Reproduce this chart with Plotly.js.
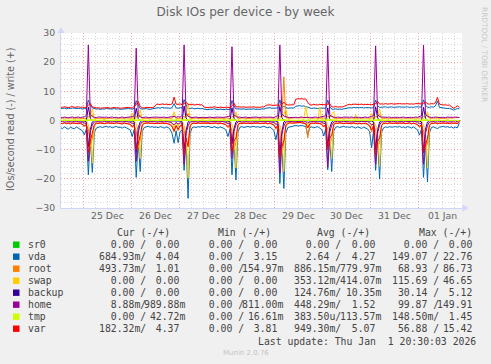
<!DOCTYPE html>
<html><head><meta charset="utf-8">
<script src="https://cdn.plot.ly/plotly-3.0.1.min.js"></script>
<style>html,body{margin:0;padding:0;background:#f0f0f0;}#chart{width:491px;height:364px;}</style>
</head><body><div id="chart"></div>
<script>
// ---- sampling grid (hourly averages) ----
const START_UTC = Date.UTC(2025, 11, 24, 12, 30);
const STEP_MS = 3600000;

// ---- series (reads stored positive, drawn negative) ----
const sr0_r = [
0,0,0,0,0,0,0,0,0,0,0,0,0,0,0,0,0,0,0,0,0,0,0,0,
0,0,0,0,0,0,0,0,0,0,0,0,0,0,0,0,0,0,0,0,0,0,0,0,
0,0,0,0,0,0,0,0,0,0,0,0,0,0,0,0,0,0,0,0,0,0,0,0,
0,0,0,0,0,0,0,0,0,0,0,0,0,0,0,0,0,0,0,0,0,0,0,0,
0,0,0,0,0,0,0,0,0,0,0,0,0,0,0,0,0,0,0,0,0,0,0,0,
0,0,0,0,0,0,0,0,0,0,0,0,0,0,0,0,0,0,0,0,0,0,0,0,
0,0,0,0,0,0,0,0,0,0,0,0,0,0,0,0,0,0,0,0,0,0,0,0,
0,0,0,0,0,0,0,0,0,0,0,0,0,0,0,0,0,0,0,0,0,0,0,0,
0,0,0,0,0,0,0,0,0];
const sr0_w = [
0,0,0,0,0,0,0,0,0,0,0,0,0,0,0,0,0,0,0,0,0,0,0,0,
0,0,0,0,0,0,0,0,0,0,0,0,0,0,0,0,0,0,0,0,0,0,0,0,
0,0,0,0,0,0,0,0,0,0,0,0,0,0,0,0,0,0,0,0,0,0,0,0,
0,0,0,0,0,0,0,0,0,0,0,0,0,0,0,0,0,0,0,0,0,0,0,0,
0,0,0,0,0,0,0,0,0,0,0,0,0,0,0,0,0,0,0,0,0,0,0,0,
0,0,0,0,0,0,0,0,0,0,0,0,0,0,0,0,0,0,0,0,0,0,0,0,
0,0,0,0,0,0,0,0,0,0,0,0,0,0,0,0,0,0,0,0,0,0,0,0,
0,0,0,0,0,0,0,0,0,0,0,0,0,0,0,0,0,0,0,0,0,0,0,0,
0,0,0,0,0,0,0,0,0];
const vda_r = [
2.4,2.8,2.2,2.6,3.0,2.3,2.5,2.9,2.2,2.7,3.1,3.5,4.9,3.0,18.6,6.5,17.8,4.2,2.6,2.3,2.1,2.4,2.2,2.0,
2.3,2.1,2.5,2.2,2.0,2.4,2.3,2.6,2.2,2.5,2.8,3.2,5.5,3.1,19.5,7.0,17.5,3.8,2.4,2.2,2.0,2.3,2.1,2.4,
2.2,2.5,2.1,2.3,2.6,2.2,2.4,3.0,4.5,7.8,3.5,7.6,3.8,3.2,17.1,6.8,26.7,4.5,2.5,2.2,2.4,2.1,2.3,2.0,
2.1,2.3,2.0,2.2,2.5,2.1,2.3,2.6,2.2,2.4,2.7,3.3,5.5,3.0,18.6,6.2,20.4,3.9,2.3,2.1,2.4,2.2,2.0,2.3,
2.2,2.0,2.3,2.1,2.4,2.2,2.0,2.3,2.5,2.2,2.8,3.4,6.6,3.1,21.6,7.5,23.3,4.4,2.4,2.2,2.0,1.8,1.7,1.9,
1.8,1.7,1.9,2.1,5.0,2.4,2.2,2.5,2.3,2.1,2.6,3.1,5.3,2.9,16.9,6.0,17.5,3.6,2.3,2.1,2.4,2.2,2.0,2.3,
2.2,2.4,2.1,2.3,2.6,2.2,2.4,2.7,2.3,2.5,2.9,3.8,9.3,3.4,17.1,6.5,20.1,4.0,2.5,2.2,2.4,2.1,2.3,2.2,
2.1,2.3,2.0,2.4,2.2,2.5,2.1,2.3,2.6,2.2,2.7,3.2,5.0,3.0,19.5,7.2,21.1,4.1,2.4,2.2,2.5,2.8,2.3,2.1,
2.0,2.3,2.1,2.4,2.2,2.6,2.3,2.5,0.7];
const vda_w = [
4.2,4.1,4.3,4.0,4.2,4.1,4.3,4.2,4.0,4.1,4.2,3.9,4.1,4.0,7.0,5.2,4.3,4.0,3.9,4.0,3.8,4.0,3.9,4.1,
4.0,3.8,3.9,4.1,3.9,4.0,3.8,3.9,4.0,3.9,4.1,4.0,3.9,4.2,6.8,5.4,4.1,3.9,4.0,4.1,3.9,3.8,4.0,4.1,
4.3,4.4,4.2,4.5,4.3,4.4,4.3,4.2,4.4,5.8,4.3,4.2,4.4,4.3,7.2,5.3,4.2,4.1,4.3,4.0,4.1,4.2,4.0,4.1,
3.9,3.8,3.7,3.9,3.8,4.0,3.8,3.7,3.9,3.8,3.7,3.9,3.8,3.7,6.9,5.0,4.0,3.9,3.8,3.9,4.0,3.8,3.9,3.8,
3.9,4.0,3.8,3.9,3.8,4.0,3.9,4.2,4.3,4.4,4.2,4.3,4.4,4.3,7.1,4.6,4.8,4.4,4.2,4.3,4.2,4.3,4.9,5.0,
5.1,4.9,5.0,4.8,4.6,4.2,4.1,4.3,4.2,4.1,4.3,4.2,4.1,4.2,7.0,4.9,3.9,3.8,4.0,3.8,3.9,3.8,4.0,4.2,
4.3,4.4,4.3,4.5,4.4,4.3,4.4,4.5,4.3,4.4,4.5,4.4,4.3,4.4,7.0,5.1,4.5,4.6,4.5,4.7,4.5,4.6,4.7,4.5,
4.6,4.5,4.7,4.6,4.5,4.6,4.7,4.5,4.6,4.5,4.7,4.6,4.5,4.6,7.1,5.2,4.6,4.5,4.7,4.6,5.0,6.7,4.5,4.4,
4.2,4.3,4.1,4.2,3.9,3.6,3.8,4.1,4.0];
const root_r = [
0.9,1.0,0.8,1.1,0.9,0.8,1.0,0.9,1.1,0.8,1.0,1.3,2.0,1.5,3.0,9.0,6.0,1.8,1.0,0.9,0.8,0.9,1.0,0.8,
0.9,0.8,1.0,0.9,0.8,1.0,0.9,1.1,0.8,0.9,1.2,1.4,2.4,1.6,3.5,9.5,7.0,1.6,0.9,1.0,0.8,0.9,0.8,1.0,
0.9,1.0,0.8,0.9,1.1,0.9,1.0,1.3,2.0,4.0,1.6,3.5,1.8,1.4,3.2,8.5,8.0,2.0,1.0,0.9,1.0,0.8,0.9,0.8,
0.9,0.8,1.0,0.9,1.1,0.8,0.9,1.0,0.8,1.0,1.2,1.5,2.5,1.5,3.4,10.0,7.5,1.7,0.9,0.8,1.0,0.9,0.8,0.9,
1.0,0.9,0.8,1.0,0.9,1.1,0.9,0.8,1.0,0.9,1.3,1.6,3.0,1.7,3.6,11.0,8.0,1.9,1.0,0.8,0.9,0.8,0.7,0.8,
0.7,0.8,0.9,1.2,6.0,1.3,0.9,1.0,0.8,0.9,1.1,1.4,2.3,1.5,3.0,8.0,6.5,1.6,0.9,1.0,0.8,0.9,1.0,0.9,
0.9,1.0,0.8,0.9,1.1,0.9,1.0,1.2,0.9,1.1,1.4,2.0,4.0,1.8,3.3,9.0,7.5,1.8,1.0,0.9,1.0,0.8,0.9,1.0,
0.8,0.9,1.0,0.9,0.8,1.0,0.9,0.8,1.1,0.9,1.2,1.5,2.4,1.6,3.5,9.5,8.0,1.7,0.9,1.0,0.8,1.1,0.9,0.8,
0.9,1.0,0.8,0.9,1.1,0.9,1.0,0.8,0.5];
const root_w = [
0.8,0.7,0.9,0.8,0.7,0.8,0.9,0.7,0.8,0.8,0.7,0.9,0.8,0.7,1.5,1.2,2.0,0.8,0.7,0.8,0.7,0.8,0.7,0.8,
0.7,0.8,0.7,0.9,0.8,0.7,0.8,0.8,0.7,0.9,0.8,0.7,0.8,0.9,1.4,1.3,1.8,0.8,0.7,0.8,0.7,0.8,0.9,0.7,
0.8,0.7,0.9,0.8,0.7,0.8,0.8,0.9,0.8,1.6,0.8,0.7,0.8,0.9,1.5,1.2,2.4,0.8,0.7,0.8,0.9,0.7,0.8,0.8,
0.7,0.8,0.7,0.8,0.9,0.7,0.8,0.7,0.8,0.8,0.7,0.9,0.8,0.7,1.4,1.1,1.9,0.8,0.7,0.9,0.8,0.7,0.8,0.7,
0.8,0.7,0.8,0.9,0.7,0.8,0.7,0.8,0.9,0.8,0.7,0.8,0.9,0.8,1.5,1.3,15.0,1.0,0.8,0.7,0.8,0.9,1.0,0.9,
0.9,1.0,0.9,1.2,1.1,0.8,0.7,0.8,0.9,0.7,0.8,0.7,0.8,0.9,1.4,1.2,1.8,0.8,0.7,0.8,0.7,0.8,0.7,0.8,
0.8,0.7,0.9,0.8,0.7,0.8,0.8,0.7,0.9,0.8,0.7,0.8,0.9,0.8,1.5,1.2,2.1,0.8,0.7,0.8,0.9,0.7,0.8,0.8,
0.7,0.8,0.7,0.9,0.8,0.7,0.8,0.8,0.7,0.9,0.8,0.7,0.8,0.9,1.4,1.3,2.0,0.8,0.7,0.8,0.9,1.1,0.8,0.7,
0.8,0.7,0.9,0.8,0.7,0.8,1.0,0.9,1.0];
const swap_r = [
0,0,0,0,0,0,0,0,0,0,0,0,0.6,0,1.5,4.0,14.6,1.5,0.3,0,0,0,0,0,
0,0,0,0,0,0,0,0,0,0,0,0,0.8,0,1.2,3.5,13.0,1.4,0.2,0,0,0,0,0,
0,0,0,0,0,0,0,0,1.0,2.5,0.5,2.0,0.7,0,1.6,4.5,19.7,2.0,0.3,0,0,0,0,0,
0,0,0,0,0,0,0,0,0,0,0,0,0.9,0,1.4,4.0,16.3,1.6,0.2,0,0,0,0,0,
0,0,0,0,0,0,0,0,0,0,0,0.3,1.2,0.2,1.8,4.2,17.5,1.8,0.3,0,0,0,0,0,
0,0,0,0,2.5,0.3,0,0,0,0,0,0,0.8,0,1.3,3.6,13.0,1.3,0.2,0,0,0,0,0,
0,0,0,0,0,0,0,0,0,0,0,0.5,2.0,0.3,1.5,4.1,15.7,1.6,0.3,0,0,0,0,0,
0,0,0,0,0,0,0,0,0,0,0,0,0.9,0,1.6,4.3,16.3,1.7,0.3,0,0,0,0,0,
0,0,0,0,0,0,0,0,0];
const swap_w = [
0,0,0.3,0,0,0,0,0.5,0,0,0,0,0,0,0.8,1.5,4.0,0.6,0,0,0,0,0.4,0,
0,0,0,0,0.3,0,0,0,0,0,0,0,2.6,0.5,0.9,1.2,3.7,0.4,0,0,0,0.3,0,0,
0,0,0.4,0,0,0,0,0,0.6,3.0,0.4,0,0,0,0.8,1.8,6.0,0.7,0,0,0,0,0,0.3,
0,0,0,0.3,0,0,0,0,0,0,0.5,0,0,0,0.7,1.2,3.0,0.4,0,0,0,0.3,0,0,
0,0,0,0,0.4,0,0,0,0,0,0,0.3,0,0,0.8,1.4,2.0,4.0,0.5,0,0,0,0,0,
0,0,0.5,4.8,0.6,0,0,0,0,0,4.5,0.4,0,0,0.7,1.3,2.2,3.0,0.4,0,0,0,0.3,0,
0,0,0,0,2.0,0,0,0,0,0,0,0,2.5,0.5,0.9,1.5,4.0,0.6,0,0,0.3,0,0,0,
0,0,0,0.3,0,0,0,0,0,0,0.4,0,0,0,0.8,1.3,3.0,0.5,0,0,0,1.5,0,0,
0,0,0.3,0,0,0,0,0,0];
const backup_r = [
0,0,0,0,0,0,0,0,0,0,0,0,0.2,0.5,9,3,0.5,0,0,0,0,0,0,0,
0,0,0,0,0,0,0,0,0,0,0,0,0.2,0.5,11,2.5,0.5,0,0,0,0,0,0,0,
0,0,0,0,0,0,0,0,0,0,0,0,0.2,0.5,10,3.5,0.5,0,0,0,0,0,0,0,
0,0,0,0,0,0,0,0,0,0,0,0,0.2,0.5,8,2.8,0.5,0,0,0,0,0,0,0,
0,0,0,0,0,0,0,0,0,0,0,0,0.2,0.5,12,4,0.5,0,0,0,0,0,0,0,
0,0,0,0,0,0,0,0,0,0,0,0,0.2,0.5,9,2.6,0.5,0,0,0,0,0,0,0,
0,0,0,0,0,0,0,0,0,0,0,0,0.2,0.5,10,3.2,0.5,0,0,0,0,0,0,0,
0,0,0,0,0,0,0,0,0,0,0,0,0.2,0.5,11,3,0.5,0,0,0,0,0,0,0,
0,0,0,0,0,0,0,0,0];
const backup_w = [
0,0,0,0,0,0,0,0,0,0,0,0,0,0,4.6,0.8,0,0,0,0,0,0,0,0,
0,0,0,0,0,0,0,0,0,0,0,0,0,0,4.2,0.7,0,0,0,0,0,0,0,0,
0,0,0,0,0,0,0,0,0,0,0,0,0,0,5.0,0.9,0,0,0,0,0,0,0,0,
0,0,0,0,0,0,0,0,0,0,0,0,0,0,4.4,0.8,0,0,0,0,0,0,0,0,
0,0,0,0,0,0,0,0,0,0,0,0,0,0,4.8,1.0,0,0,0,0,0,0,0,0,
0,0,0,0,0,0,0,0,0,0,0,0,0,0,4.3,0.7,0,0,0,0,0,0,0,0,
0,0,0,0,0,0,0,0,0,0,0,0,0,0,4.7,0.9,0,0,0,0,0,0,0,0,
0,0,0,0,0,0,0,0,0,0,0,0,0,0,4.5,0.8,0,0,0,0,0,0,0,0,
0,0,0,0,0,0,0,0,0];
const home_r = [
0.4,0.3,0.5,0.4,0.3,0.4,0.5,0.3,0.4,0.5,0.4,0.6,0.9,1.0,14.0,4.0,1.5,0.5,0.4,0.3,0.4,0.5,0.3,0.4,
0.3,0.4,0.5,0.3,0.4,0.3,0.4,0.5,0.4,0.3,0.5,0.6,1.0,1.1,14.0,4.2,1.4,0.5,0.3,0.4,0.5,0.3,0.4,0.4,
0.4,0.5,0.3,0.4,0.5,0.3,0.4,0.6,0.9,1.5,0.7,1.2,0.8,1.0,15.0,4.5,1.8,0.5,0.4,0.3,0.4,0.5,0.3,0.4,
0.3,0.4,0.5,0.4,0.3,0.4,0.3,0.5,0.4,0.3,0.5,0.6,1.1,1.0,13.0,3.8,1.5,0.4,0.3,0.5,0.4,0.3,0.4,0.5,
0.4,0.3,0.4,0.5,0.3,0.4,0.5,0.4,0.3,0.4,0.5,0.7,1.3,1.2,18.0,4.8,1.9,0.5,0.4,0.3,0.4,0.3,0.4,0.3,
0.4,0.3,0.5,0.4,0.9,0.5,0.4,0.3,0.4,0.5,0.4,0.6,1.0,1.1,16.0,4.0,1.6,0.5,0.3,0.4,0.5,0.4,0.3,0.4,
0.3,0.4,0.5,0.3,0.4,0.5,0.4,0.3,0.4,0.5,0.4,0.8,1.5,1.2,15.0,4.3,1.6,0.4,0.5,0.3,0.4,0.5,0.4,0.3,
0.4,0.5,0.3,0.4,0.5,0.3,0.4,0.5,0.4,0.3,0.5,0.6,1.1,1.0,15.0,4.4,1.7,0.5,0.4,0.3,0.4,0.5,0.3,0.4,
0.3,0.4,0.5,0.4,0.3,0.4,0.5,0.3,0.01];
const home_w = [
1.1,1.0,1.2,1.1,0.9,1.1,1.2,1.0,1.1,1.2,1.0,1.1,1.3,1.6,25.9,2.0,1.3,1.1,1.0,1.2,1.1,1.0,1.1,1.2,
1.0,1.1,1.2,1.0,1.1,0.9,1.1,1.2,1.0,1.1,1.2,1.1,1.3,1.6,24.8,2.1,1.2,1.0,1.1,1.2,1.0,1.1,1.0,1.1,
1.2,1.1,1.0,1.1,1.2,1.0,1.1,1.2,1.1,1.4,1.1,1.3,1.2,1.7,25.9,2.2,1.4,1.1,1.0,1.1,1.2,1.0,1.1,1.0,
1.1,1.0,1.1,1.2,1.0,1.1,1.0,1.2,1.1,1.0,1.1,1.2,1.3,1.5,25.3,2.0,1.3,1.1,1.2,1.0,1.1,1.2,1.0,1.1,
1.0,1.1,1.2,1.1,1.0,1.2,1.1,1.0,1.1,1.2,1.1,1.0,1.4,1.6,25.9,2.3,1.5,1.2,1.1,1.0,1.1,1.2,1.1,1.0,
1.1,1.2,1.0,1.1,1.2,1.1,1.0,1.1,1.2,1.0,1.1,1.2,1.3,1.6,25.6,2.0,1.3,1.1,1.0,1.2,1.1,1.0,1.2,1.1,
1.0,1.1,1.2,1.0,1.1,1.2,1.1,1.0,1.1,1.2,1.0,1.1,1.4,1.7,25.6,2.1,1.3,1.2,1.1,1.0,1.1,1.2,1.0,1.1,
1.2,1.1,1.0,1.1,1.2,1.0,1.1,1.2,1.1,1.0,1.2,1.1,1.3,1.6,25.9,2.2,1.4,1.1,1.0,1.1,1.2,1.0,1.1,1.2,
1.1,1.0,1.2,1.1,1.0,1.1,1.2,1.0,1.0];
const tmp_r = [
0,0,0,0,0,0,0,0,0,0,0,0,0,0,0,0,0,0,0,0,0,0,0,0,
0,0,0,0,0,0,0,0,0,0,0,0,0,0,0,0,0,0,0,0,0,0,0,0,
0,0,0,0,0,0,0,0,0,0,0,0,0,0,0,0,0,0,0,0,0,0,0,0,
0,0,0,0,0,0,0,0,0,0,0,0,0,0,0,0,0,0,0,0,0,0,0,0,
0,0,0,0,0,0,0,0,0,0,0,0,0,0,0,0,0,0,0,0,0,0,0,0,
0,0,0,0,0,0,0,0,0,0,0,0,0,0,0,0,0,0,0,0,0,0,0,0,
0,0,0,0,0,0,0,0,0,0,0,0,0,0,0,0,0,0,0,0,0,0,0,0,
0,0,0,0,0,0,0,0,0,0,0,0,0,0,0,0,0,0,0,0,0,0,0,0,
0,0,0,0,0,0,0,0,0];
const tmp_w = [
0.1,0.1,0.2,0.1,0.1,0.1,0.1,0.2,0.1,0.1,0.1,0.1,0.2,0.2,0.4,0.3,0.2,0.1,0.1,0.1,0.2,0.1,0.1,0.1,
0.1,0.2,0.1,0.1,0.1,0.1,0.2,0.1,0.1,0.1,0.1,0.2,0.2,0.3,0.5,0.3,0.2,0.1,0.1,0.2,0.1,0.1,0.1,0.1,
0.1,0.1,0.1,0.2,0.1,0.1,0.1,0.1,0.2,0.3,0.1,0.2,0.2,0.2,0.4,0.3,0.3,0.1,0.1,0.1,0.1,0.2,0.1,0.1,
0.2,0.1,0.1,0.1,0.1,0.2,0.1,0.1,0.1,0.1,0.2,0.1,0.2,0.2,0.4,0.2,0.2,0.1,0.2,0.1,0.1,0.1,0.1,0.2,
0.1,0.1,0.1,0.1,0.2,0.1,0.1,0.2,0.1,0.1,0.1,0.1,0.3,0.2,0.5,0.3,0.4,0.2,0.1,0.1,0.1,0.1,0.2,0.1,
0.1,0.2,0.1,0.2,0.3,0.1,0.1,0.1,0.1,0.1,0.2,0.1,0.2,0.2,0.4,0.3,0.2,0.2,0.1,0.1,0.1,0.2,0.1,0.1,
0.1,0.1,0.2,0.1,0.1,0.1,0.1,0.1,0.2,0.1,0.1,0.2,0.3,0.2,0.4,0.3,0.3,0.1,0.1,0.1,0.2,0.1,0.1,0.1,
0.1,0.1,0.1,0.1,0.2,0.1,0.1,0.1,0.1,0.2,0.1,0.1,0.2,0.2,0.5,0.3,0.2,0.1,0.1,0.2,0.1,0.1,0.1,0.1,
0.1,0.1,0.1,0.2,0.1,0.1,0.1,0.1,0.04];
const var_r = [
0.9,1.1,0.8,1.0,0.9,1.2,0.8,0.9,1.0,1.1,0.9,1.3,1.8,1.4,11,7,4,1.5,0.9,1.0,0.8,0.9,1.1,0.9,
0.8,1.0,0.9,1.1,0.8,0.9,1.0,1.2,0.9,1.0,1.1,1.3,2.0,1.5,10,8,5,1.6,1.0,0.9,0.8,1.0,0.9,1.1,
1.0,0.9,1.1,0.8,1.0,0.9,1.2,1.4,2.2,3.5,1.8,3.0,1.9,1.5,12,6,9,1.8,1.0,0.9,1.1,0.8,1.0,0.9,
0.9,1.0,0.8,1.1,0.9,1.0,0.8,1.2,0.9,1.0,1.2,1.4,2.1,1.4,11,7,6,1.5,0.9,1.1,0.8,1.0,0.9,1.0,
1.1,0.9,1.0,0.8,1.1,0.9,1.0,0.8,1.2,0.9,1.3,1.5,2.6,1.6,13,9,7,1.7,1.0,0.8,0.9,0.8,0.7,0.8,
0.7,0.8,0.9,1.1,2.5,1.2,0.9,1.0,0.8,1.1,1.0,1.3,2.0,1.5,10,6,5,1.4,0.9,1.0,0.8,0.9,1.1,0.9,
1.0,0.9,1.1,0.8,1.0,1.2,0.9,1.1,1.0,0.9,1.3,1.8,3.2,1.7,12,7,6,1.6,1.0,0.9,1.1,0.8,1.0,0.9,
0.9,1.1,0.8,1.0,0.9,1.1,1.0,0.8,1.2,0.9,1.1,1.4,2.0,1.5,11,8,6,1.6,0.9,1.0,0.8,1.1,0.9,1.0,
0.8,1.0,0.9,1.1,0.8,1.0,0.9,1.1,0.2];
const var_w = [
4.6,4.5,4.7,4.6,4.4,4.6,4.8,4.5,4.6,4.7,4.5,4.6,4.4,4.6,5.2,5.8,4.7,4.4,4.3,4.4,4.2,4.3,4.4,4.3,
4.4,4.2,4.3,4.5,4.3,4.4,4.2,4.3,4.4,4.3,4.5,4.4,4.3,4.9,5.4,6.5,4.8,4.4,4.3,4.5,4.4,4.3,4.4,4.6,
5.5,5.6,5.4,5.7,5.5,5.6,5.6,5.4,5.7,8.0,5.6,5.5,5.7,5.4,5.8,6.3,5.5,5.4,5.6,5.3,5.4,5.5,5.3,5.4,
4.6,4.5,4.4,4.6,4.5,4.7,4.5,4.4,4.6,4.5,4.4,4.6,4.5,4.4,5.0,5.9,4.7,4.6,4.5,4.6,4.7,4.5,4.6,4.5,
4.6,4.7,4.5,4.6,4.5,4.7,4.6,5.2,5.3,5.4,5.2,5.3,5.4,5.3,5.2,5.6,6.3,5.5,5.3,5.4,5.3,5.4,7.3,7.5,
7.4,7.5,7.3,7.4,6.2,5.4,5.3,5.5,5.4,5.3,5.5,5.4,5.3,5.4,5.6,5.8,4.7,4.6,4.8,4.6,4.7,4.6,4.8,5.2,
5.4,5.5,5.4,5.6,5.5,5.4,5.5,5.6,5.4,5.5,5.6,5.5,5.4,5.5,5.8,6.5,5.6,5.7,5.6,5.8,5.6,5.7,5.8,5.6,
5.7,5.6,5.8,5.7,5.6,5.7,5.8,5.6,5.7,5.6,5.8,5.7,5.6,5.7,5.9,6.4,5.7,5.6,5.8,5.7,6.1,7.9,5.6,5.4,
5.3,5.4,5.2,5.3,4.6,4.2,4.5,5.1,4.4];

// ---- legend / table content ----
const devices = ['sr0','vda','root','swap','backup','home','tmp','var'];
const colors  = ['#00CC00','#0066B3','#FF8000','#FFCC00','#330099','#990099','#CCFF00','#FF0000'];
const readSeries  = [sr0_r, vda_r, root_r, swap_r, backup_r, home_r, tmp_r, var_r];
const writeSeries = [sr0_w, vda_w, root_w, swap_w, backup_w, home_w, tmp_w, var_w];
const colHeaders = ['Cur (-/+)','Min (-/+)','Avg (-/+)','Max (-/+)'];
const curR = ['0.00','684.93m','493.73m','0.00','0.00','8.88m','0.00','182.32m'];
const curW = ['0.00','4.04','1.01','0.00','0.00','989.88m','42.72m','4.37'];
const minR = ['0.00','0.00','0.00','0.00','0.00','0.00','0.00','0.00'];
const minW = ['0.00','3.15','154.97m','0.00','0.00','811.00m','16.61m','3.81'];
const avgR = ['0.00','2.64','886.15m','353.12m','124.76m','448.29m','383.50u','949.30m'];
const avgW = ['0.00','4.27','779.97m','414.07m','10.35m','1.52','113.57m','5.07'];
const maxR = ['0.00','149.07','68.93','115.69','30.14','99.87','148.50m','56.88'];
const maxW = ['0.00','22.76','86.73','46.65','5.12','149.91','1.45','15.42'];
const dayLabels = ['25 Dec','26 Dec','27 Dec','28 Dec','29 Dec','30 Dec','31 Dec','01 Jan'];
const dayNoons = ['2025-12-25 12:00','2025-12-26 12:00','2025-12-27 12:00','2025-12-28 12:00','2025-12-29 12:00','2025-12-30 12:00','2025-12-31 12:00','2026-01-01 12:00'];
const titleText = 'Disk IOs per device - by week';
const yTitle = 'IOs/second read (-) / write (+)';
const lastUpdate = 'Last update: Thu Jan  1 20:30:03 2026';

// ---- build ----
const times = sr0_r.map((_, i) => new Date(START_UTC + i * STEP_MS).toISOString().slice(0,19).replace('T',' '));
const traces = [];
devices.forEach((d, k) => {
  traces.push({x: times, y: readSeries[k].map(v => -v), type:'scatter', mode:'lines',
    line:{color:colors[k], width:1}, hoverinfo:'skip', showlegend:false});
  traces.push({x: times, y: writeSeries[k], type:'scatter', mode:'lines',
    line:{color:colors[k], width:1}, hoverinfo:'skip', showlegend:false});
});

const L = 61, T = 33, W = 401, H = 175, FIG_H = 364;
const px = x => (x - L) / W;
const py = y => (T + H - y) / H;
const NB = '\u00a0';
const fmt = s => { const suf = /[a-zA-Z]$/.test(s); const n = suf ? s.slice(0,-1) : s;
  return (n.padStart(6,' ') + (suf ? s.slice(-1) : ' ')).replace(/ /g, NB); };

const mono = {family:'DejaVu Sans Mono', size:9.8, color:'#444'};
const sans = {family:'DejaVu Sans', size:9.3, color:'#666'};
const ann = [];
const A = (x, y, text, font, xanchor='left', extra={}) => ann.push(Object.assign({
  xref:'paper', yref:'paper', x:px(x), y:py(y), text, font, xanchor, yanchor:'middle', showarrow:false}, extra));

// day labels on the date axis
dayNoons.forEach((t, i) => ann.push({xref:'x', yref:'paper', x:t, y:py(215.5), text:dayLabels[i],
  font:sans, xanchor:'center', yanchor:'middle', showarrow:false}));
// y title
A(10, 119, yTitle, {family:'DejaVu Sans', size:9.6, color:'#666'}, 'center', {textangle:-90});
// watermark
A(485, 54, 'RRDTOOL / TOBI OETIKER', {family:'DejaVu Sans', size:7.4, color:'#c8c8c8'}, 'center', {textangle:90});
// table headers
const headerX = [115, 215.7, 315, 416.7];
colHeaders.forEach((h, i) => A(headerX[i], 232.3, h.replace(/ /g, NB), mono));
const readX = [97, 195, 292.3, 390.3];
const writeX = [142, 240, 337.5, 435.3];
const cols = [[curR, curW],[minR, minW],[avgR, avgW],[maxR, maxW]];
const shapes = [];
devices.forEach((d, k) => {
  const y = 244.7 + 12 * k;
  A(26.3, y, d, mono);
  cols.forEach((c, j) => {
    A(readX[j], y, fmt(c[0][k]) + '/', mono);
    A(writeX[j], y, fmt(c[1][k]), mono);
  });
  shapes.push({type:'rect', xref:'paper', yref:'paper', x0:px(13), x1:px(19.5), y0:py(y+3.2), y1:py(y-3.2),
    fillcolor:colors[k], line:{width:0}});
});
A(477.5, 341, lastUpdate.replace(/ /g, NB), mono, 'right');
A(245.5, 352.5, 'Munin 2.0.76', {family:'DejaVu Sans', size:7, color:'#c4c4c4'}, 'center');

// axis arrows
const axc = '#CFD6F8';
shapes.push({type:'path', xref:'paper', yref:'paper', line:{width:0}, fillcolor:axc,
  path:`M ${px(61)} ${py(27)} L ${px(57.5)} ${py(33)} L ${px(64.5)} ${py(33)} Z`});
shapes.push({type:'path', xref:'paper', yref:'paper', line:{width:0}, fillcolor:axc,
  path:`M ${px(468.5)} ${py(208)} L ${px(462.5)} ${py(204.5)} L ${px(462.5)} ${py(211.5)} Z`});

const majorGrid = 'rgba(255,0,0,0.38)';
const minorGrid = 'rgba(143,143,143,0.35)';
const layout = {
  width:491, height:364, paper_bgcolor:'#f0f0f0', plot_bgcolor:'#ffffff',
  margin:{l:L, r:491-L-W, t:T, b:FIG_H-T-H, pad:0},
  title:{text:titleText, font:{family:'DejaVu Sans', size:12, color:'#666'}, x:0.5, xref:'container', xanchor:'center',
    y:1-11.5/FIG_H, yref:'container', yanchor:'middle'},
  showlegend:false,
  xaxis:{type:'date', range:['2025-12-24 12:48','2026-01-01 21:48'], tick0:'2025-12-25', dtick:86400000,
    showticklabels:false, ticks:'', showgrid:true, gridcolor:majorGrid, griddash:'1px,2px', gridwidth:1,
    minor:{tick0:'2025-12-25', dtick:21600000, showgrid:true, gridcolor:minorGrid, griddash:'1px,2px', gridwidth:1},
    showline:true, linecolor:axc, linewidth:1, zeroline:false, fixedrange:true},
  yaxis:{range:[-30,30], tick0:0, dtick:10, ticks:'', tickfont:sans, ticklabelstandoff:3,
    showgrid:true, gridcolor:majorGrid, griddash:'1px,2px', gridwidth:1,
    minor:{dtick:2, showgrid:true, gridcolor:minorGrid, griddash:'1px,2px', gridwidth:1},
    showline:true, linecolor:axc, linewidth:1, zeroline:false, fixedrange:true},
  annotations:ann, shapes:shapes
};
Plotly.newPlot('chart', traces, layout, {staticPlot:true, displayModeBar:false});
</script>
</body></html>
